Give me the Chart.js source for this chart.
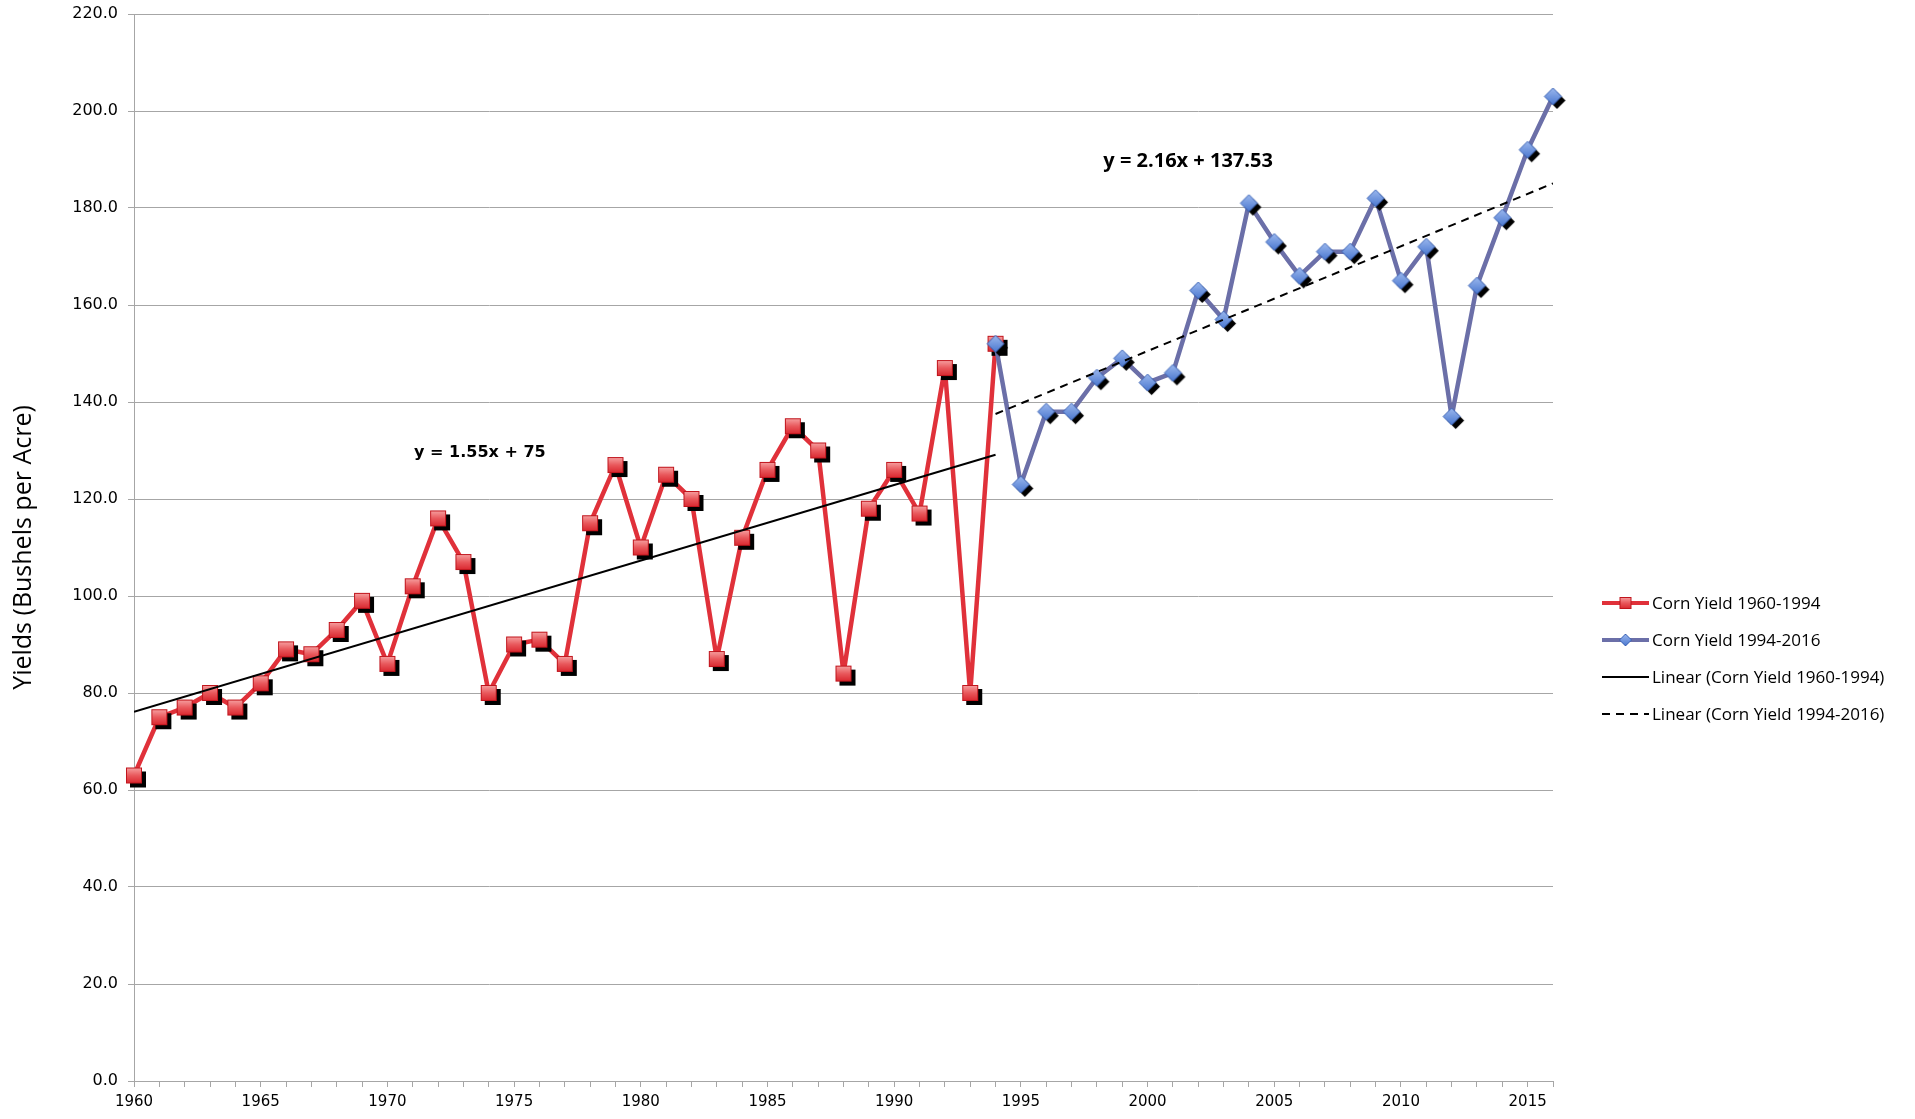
<!DOCTYPE html>
<html>
<head>
<meta charset="utf-8">
<script src="https://cdn.jsdelivr.net/npm/chart.js@4.4.1/dist/chart.umd.min.js"></script>
<style>
  html, body { margin: 0; padding: 0; background: #fff; }
  #wrap { position: relative; width: 1915px; height: 1119px; }
</style>
</head>
<body>
<div id="wrap"><canvas id="chart" width="1915" height="1119"></canvas></div>
<script>
// Iowa corn yields, bushels per acre
const years1 = [1960, 1961, 1962, 1963, 1964, 1965, 1966, 1967, 1968, 1969,
  1970, 1971, 1972, 1973, 1974, 1975, 1976, 1977, 1978, 1979,
  1980, 1981, 1982, 1983, 1984, 1985, 1986, 1987, 1988, 1989,
  1990, 1991, 1992, 1993, 1994];
const yields1 = [63, 75, 77, 80, 77, 82, 89, 88, 93, 99,
  86, 102, 116, 107, 80, 90, 91, 86, 115, 127,
  110, 125, 120, 87, 112, 126, 135, 130, 84, 118,
  126, 117, 147, 80, 152];

const years2 = [1994, 1995, 1996, 1997, 1998, 1999, 2000, 2001, 2002, 2003,
  2004, 2005, 2006, 2007, 2008, 2009, 2010, 2011, 2012, 2013,
  2014, 2015, 2016];
const yields2 = [152, 123, 138, 138, 145, 149, 144, 146, 163, 157,
  181, 173, 166, 171, 171, 182, 165, 172, 137, 164,
  178, 192, 203];

const seriesNames = ['Corn Yield 1960-1994', 'Corn Yield 1994-2016',
  'Linear (Corn Yield 1960-1994)', 'Linear (Corn Yield 1994-2016)'];
const equations = ['y = 1.55x + 75', 'y = 2.16x + 137.53'];

const RED = '#e0313a';
const BLUE = '#6b6fa8';
const GRID = '#a6a6a6';

// least squares fit, drawn between first and last year
function trend(xs, ys) {
  const n = xs.length;
  const mx = xs.reduce((a, b) => a + b, 0) / n;
  const my = ys.reduce((a, b) => a + b, 0) / n;
  let sxy = 0, sxx = 0;
  for (let i = 0; i < n; i++) {
    sxy += (xs[i] - mx) * (ys[i] - my);
    sxx += (xs[i] - mx) * (xs[i] - mx);
  }
  const b = sxy / sxx, a = my - b * mx;
  return [{ x: xs[0], y: a + b * xs[0] }, { x: xs[n - 1], y: a + b * xs[n - 1] }];
}

function squareMarker(size, shadow) {
  const c = document.createElement('canvas');
  const s = size + 2 * shadow + 4;
  c.width = s; c.height = s;
  const g = c.getContext('2d');
  const o = (s - size) / 2;
  if (shadow) {
    g.fillStyle = '#000';
    g.fillRect(o + shadow, o + shadow, size, size);
  }
  const grad = g.createLinearGradient(0, o, 0, o + size);
  grad.addColorStop(0, '#f7a3a3');
  grad.addColorStop(0.5, '#e9585c');
  grad.addColorStop(1, '#d9262e');
  g.fillStyle = grad;
  g.fillRect(o, o, size, size);
  g.strokeStyle = '#c0151d';
  g.lineWidth = 1;
  g.strokeRect(o + 0.5, o + 0.5, size - 1, size - 1);
  return c;
}

function diamondMarker(size, shadow) {
  const c = document.createElement('canvas');
  const s = size + 2 * shadow + 4;
  c.width = s; c.height = s;
  const g = c.getContext('2d');
  const m = s / 2, r = size / 2;
  const path = (dx, dy) => {
    g.beginPath();
    g.moveTo(m + dx, m - r + dy);
    g.lineTo(m + r + dx, m + dy);
    g.lineTo(m + dx, m + r + dy);
    g.lineTo(m - r + dx, m + dy);
    g.closePath();
  };
  if (shadow) {
    path(shadow, shadow);
    g.fillStyle = '#000';
    g.fill();
  }
  path(0, 0);
  const grad = g.createLinearGradient(0, m - r, 0, m + r);
  grad.addColorStop(0, '#9bb8ee');
  grad.addColorStop(1, '#4a77cf');
  g.fillStyle = grad;
  g.fill();
  g.strokeStyle = '#3a62b5';
  g.lineWidth = 1;
  g.stroke();
  return c;
}

const sqBig = squareMarker(16, 4);
const dmBig = diamondMarker(17, 4);
const sqSmall = squareMarker(12, 0);
const dmSmall = diamondMarker(12, 0);

const pts1 = years1.map((x, i) => ({ x, y: yields1[i] }));
const pts2 = years2.map((x, i) => ({ x, y: yields2[i] }));

// equation labels and legend
const extras = {
  id: 'extras',
  afterDraw(chart) {
    const ctx = chart.ctx;
    const xs = chart.scales.x, ys = chart.scales.y;
    ctx.save();
    ctx.fillStyle = '#000';
    ctx.textAlign = 'center';
    ctx.textBaseline = 'middle';
    ctx.font = 'bold 16px "DejaVu Sans"';
    ctx.fillText(equations[0], xs.getPixelForValue(1973.65), ys.getPixelForValue(129.6));
    ctx.font = 'bold 20px "Open Sans"';
    ctx.fillText(equations[1], xs.getPixelForValue(2001.6), ys.getPixelForValue(189.6));

    const lx = chart.chartArea.right + 49;
    const y0 = 603, dy = 37;
    ctx.textAlign = 'left';
    ctx.font = '17px "Open Sans"';
    for (let i = 0; i < 4; i++) {
      const y = y0 + i * dy;
      ctx.beginPath();
      ctx.moveTo(lx, y);
      ctx.lineTo(lx + 47, y);
      if (i === 0) { ctx.strokeStyle = RED; ctx.lineWidth = 4; ctx.setLineDash([]); }
      else if (i === 1) { ctx.strokeStyle = BLUE; ctx.lineWidth = 4; ctx.setLineDash([]); }
      else if (i === 2) { ctx.strokeStyle = '#000'; ctx.lineWidth = 2; ctx.setLineDash([]); }
      else { ctx.strokeStyle = '#000'; ctx.lineWidth = 2; ctx.setLineDash([8, 6]); }
      ctx.stroke();
      ctx.setLineDash([]);
      if (i === 0) ctx.drawImage(sqSmall, lx + 23.5 - sqSmall.width / 2, y - sqSmall.height / 2);
      if (i === 1) ctx.drawImage(dmSmall, lx + 23.5 - dmSmall.width / 2, y - dmSmall.height / 2);
      ctx.fillStyle = '#000';
      ctx.fillText(seriesNames[i], lx + 50, y + 1);
    }
    ctx.restore();
  }
};

new Chart(document.getElementById('chart'), {
  type: 'line',
  data: {
    datasets: [
      {
        label: seriesNames[0], data: pts1, borderColor: RED, borderWidth: 4.5,
        borderJoinStyle: 'round', pointStyle: sqBig, pointRadius: 8, tension: 0,
        order: 3, clip: false
      },
      {
        label: seriesNames[1], data: pts2, borderColor: BLUE, borderWidth: 4.5,
        borderJoinStyle: 'round', pointStyle: dmBig, pointRadius: 8, tension: 0,
        order: 2, clip: false
      },
      {
        label: seriesNames[2], data: trend(years1, yields1), borderColor: '#000',
        borderWidth: 2, pointRadius: 0, order: 1
      },
      {
        label: seriesNames[3], data: trend(years2, yields2), borderColor: '#000',
        borderWidth: 2, borderDash: [8, 6], pointRadius: 0, order: 1
      }
    ]
  },
  options: {
    responsive: false,
    animation: false,
    layout: { padding: { top: 14, right: 362, bottom: 0, left: 0 } },
    plugins: { legend: { display: false }, tooltip: { enabled: false } },
    scales: {
      x: {
        type: 'linear', min: 1960, max: 2016,
        afterFit: (s) => { s.height = 38; s.paddingLeft = 0; s.paddingRight = 0; },
        ticks: {
          stepSize: 1, autoSkip: false, maxRotation: 0, padding: 6,
          color: '#000', font: { family: 'DejaVu Sans', size: 15 },
          callback: (v) => (v % 5 === 0 ? String(v) : '')
        },
        grid: { drawOnChartArea: false, drawTicks: true, tickLength: 6, color: GRID },
        border: { color: GRID }
      },
      y: {
        min: 0, max: 220,
        afterFit: (s) => { s.width = 134; s.paddingTop = 0; s.paddingBottom = 0; },
        ticks: {
          stepSize: 20, padding: 10, color: '#000',
          font: { family: 'DejaVu Sans', size: 16 },
          callback: (v) => v.toFixed(1)
        },
        grid: { color: GRID, tickLength: 6 },
        border: { color: GRID },
        title: {
          display: true, text: 'Yields (Bushels per Acre)', color: '#000',
          font: { family: 'Open Sans', size: 25 }, padding: { top: 9, bottom: 0 }
        }
      }
    }
  },
  plugins: [extras]
});
</script>
</body>
</html>
